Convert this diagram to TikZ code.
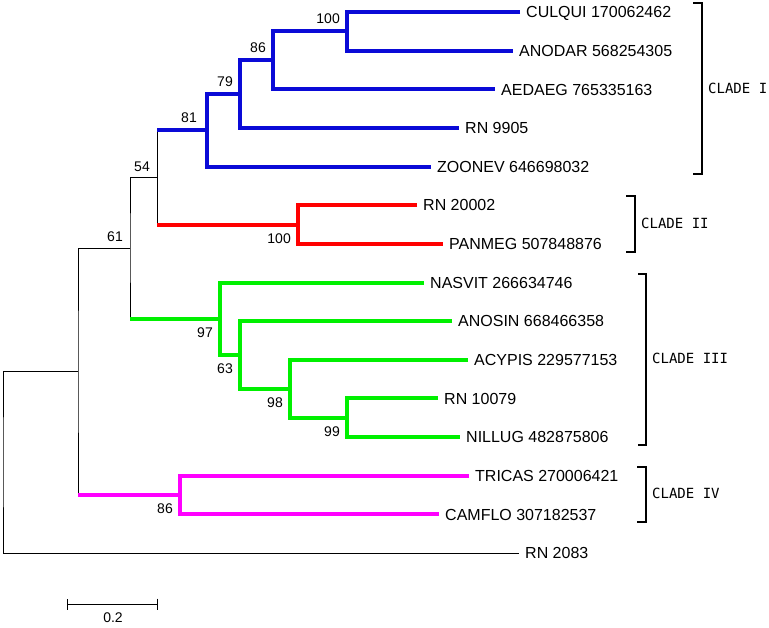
\documentclass[tikz,border=0pt]{standalone}
\usepackage{fontspec}
\setmainfont{Liberation Sans}
\newfontfamily\cladefont{DejaVu Sans Mono}
\usepackage{tikz}
\usetikzlibrary{arrows.meta}
\definecolor{cladeone}{RGB}{10,10,215}
\definecolor{cladetwo}{RGB}{255,0,0}
\definecolor{cladethree}{RGB}{0,240,0}
\definecolor{cladefour}{RGB}{255,0,255}

\begin{document}
\begin{tikzpicture}[x=1pt,y=-1pt,
	trunk/.style={black,line width=1pt},
	cone/.style={cladeone,line width=4pt},
	ctwo/.style={cladetwo,line width=4pt},
	cthree/.style={cladethree,line width=4pt},
	cfour/.style={cladefour,line width=4pt},
	taxon/.style={anchor=west,inner xsep=6pt,inner ysep=0pt,text height=11.5pt,text depth=0pt,font=\fontsize{16}{16}\selectfont},
	boot/.style={inner sep=0pt,font=\fontsize{14}{14}\selectfont},
	bootup/.style={boot,anchor=south east,xshift=-7pt,yshift=7pt},
	bootdown/.style={boot,anchor=north east,xshift=-7pt,yshift=-9pt},
	bracket/.style={black,line width=2.8pt},
	clade/.style={anchor=west,inner sep=0pt,font=\cladefont\fontsize{14}{14}\selectfont}]
	\useasboundingbox (0,0) rectangle (769,627);
	% leaves
	\node[taxon] (culqui) at (520,12) {CULQUI 170062462};
	\node[taxon] (anodar) at (513,50.6) {ANODAR 568254305};
	\node[taxon] (aedaeg) at (495,89.3) {AEDAEG 765335163};
	\node[taxon] (rn9905) at (459,127.9) {RN 9905};
	\node[taxon] (zoonev) at (431,166.6) {ZOONEV 646698032};
	\node[taxon] (rn20002) at (417,205.2) {RN 20002};
	\node[taxon] (panmeg) at (443,243.8) {PANMEG 507848876};
	\node[taxon] (nasvit) at (424,282.5) {NASVIT 266634746};
	\node[taxon] (anosin) at (452,321.1) {ANOSIN 668466358};
	\node[taxon] (acypis) at (468,359.8) {ACYPIS 229577153};
	\node[taxon] (rn10079) at (438,398.4) {RN 10079};
	\node[taxon] (nillug) at (460,437) {NILLUG 482875806};
	\node[taxon] (tricas) at (469,475.7) {TRICAS 270006421};
	\node[taxon] (camflo) at (439,514.3) {CAMFLO 307182537};
	\node[taxon] (rn2083) at (519,553) {RN 2083};
	% inner nodes
	\coordinate (b100a) at (347,31.3);
	\coordinate (b86) at (273,60.3);
	\coordinate (b79) at (240,94.1);
	\coordinate (b81) at (207,130.3);
	\coordinate (b100b) at (298,224.5);
	\coordinate (b54) at (157,177.4);
	\coordinate (b99) at (347,417.7);
	\coordinate (b98) at (290,388.8);
	\coordinate (b63) at (240,354.9);
	\coordinate (b97) at (220,318.7);
	\coordinate (b61) at (130,248);
	\coordinate (b86m) at (180,495);
	\coordinate (b0) at (78,371.5);
	\coordinate (root) at (3,462);
	% branches
	\draw[cone] (culqui.west) -| (b100a) |- (anodar.west);
	\draw[cone] (b100a) -| (b86) |- (aedaeg.west);
	\draw[cone] (b86) -| (b79) |- (rn9905.west);
	\draw[cone] (b79) -| (b81) |- (zoonev.west);
	\draw[ctwo] (rn20002.west) -| (b100b) |- (panmeg.west);
	\draw[trunk] (b54 |- b81) -- (b54 |- b100b);
	\draw[cone] (b54 |- b81) -- (b81);
	\draw[ctwo] (b54 |- b100b) -- (b100b);
	\draw[cthree] (rn10079.west) -| (b99) |- (nillug.west);
	\draw[cthree] (acypis.west) -| (b98) |- (b99);
	\draw[cthree] (anosin.west) -| (b63) |- (b98);
	\draw[cthree] (nasvit.west) -| (b97) |- (b63);
	\draw[trunk] (b54) -| (b61) |- (b97);
	\draw[cthree] (b61 |- b97) -- (b97);
	\draw[cfour] (tricas.west) -| (b86m) |- (camflo.west);
	\draw[trunk] (b61) -| (b0) |- (b86m);
	\draw[cfour] (b0 |- b86m) -- (b86m);
	\draw[trunk] (b0) -| (root) |- (rn2083.west);
	% bootstrap values
	\node[bootup] (s100a) at (b100a) {100};
	\node[bootup] (s86) at (b86) {86};
	\node[bootup] (s79) at (b79) {79};
	\node[bootup,xshift=-3pt] (s81) at (b81) {81};
	\node[bootup,yshift=-1pt] (s54) at (b54) {54};
	\node[bootup,yshift=-1pt] (s61) at (b61) {61};
	\node[bootdown] (s100b) at (b100b) {100};
	\node[bootdown] (s97) at (b97) {97};
	\node[bootdown] (s63) at (b63) {63};
	\node[bootdown] (s98) at (b98) {98};
	\node[bootdown] (s99) at (b99) {99};
	\node[bootdown] (s86m) at (b86m) {86};
	% clades
	\draw[bracket] (693,3) -| (702,174) -- (693,174);
	\draw[bracket] (626,196) -| (635,252) -- (626,252);
	\draw[bracket] (638,274) -| (646,445) -- (638,445);
	\draw[bracket] (637,467) -| (646,522) -- (637,522);
	\node[clade] (cladeI) at (708,88) {CLADE I};
	\node[clade] (cladeII) at (641,223.5) {CLADE II};
	\node[clade] (cladeIII) at (652,358) {CLADE III};
	\node[clade] (cladeIV) at (652,493) {CLADE IV};
	% scale
	\coordinate (sbl) at (67,604);
	\coordinate (sbr) at (158,604);
	\draw[trunk,{Bar[width=11pt]}-{Bar[width=11pt]}] (sbl) -- (sbr);
	\node[boot] (sblabel) at (113,618) {0.2};
\end{tikzpicture}
\end{document}
